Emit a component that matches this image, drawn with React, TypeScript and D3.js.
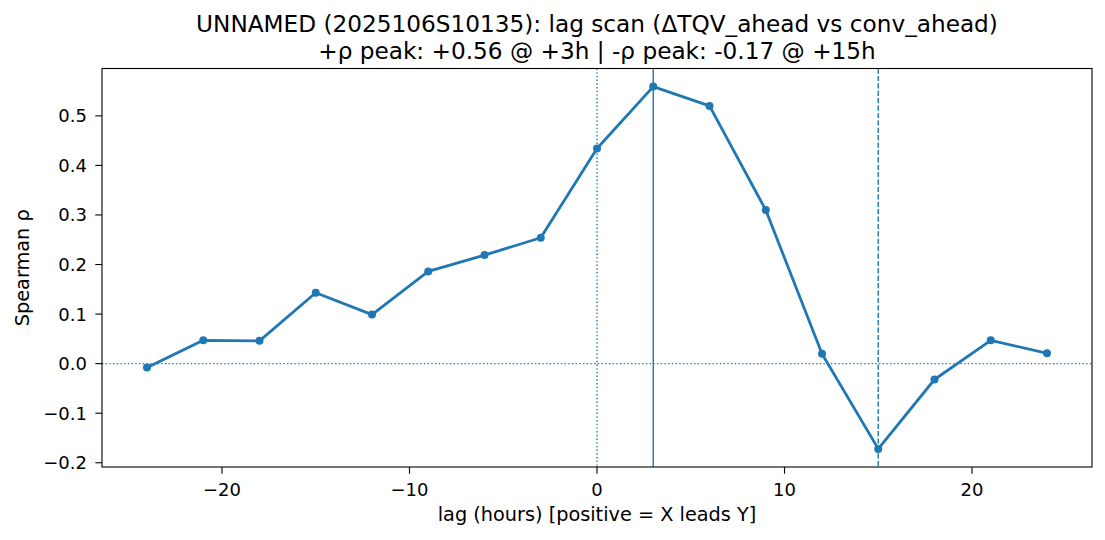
import React from "react";
import * as d3 from "d3";

const lags = [-24, -21, -18, -15, -12, -9, -6, -3, 0, 3, 6, 9, 12, 15, 18, 21, 24];
const rho = [-0.008, 0.047, 0.046, 0.143, 0.099, 0.186, 0.219, 0.254, 0.434, 0.559, 0.52, 0.31, 0.02, -0.172, -0.032, 0.047, 0.021];
const xTicks = [-20, -10, 0, 10, 20];
const yTicks = [-0.2, -0.1, 0.0, 0.1, 0.2, 0.3, 0.4, 0.5];
const titleLines = [
  "UNNAMED (2025106S10135): lag scan (ΔTQV_ahead vs conv_ahead)",
  "+ρ peak: +0.56 @ +3h | -ρ peak: -0.17 @ +15h",
];
const xLabel = "lag (hours) [positive = X leads Y]";
const yLabel = "Spearman ρ";
const posPeakLag = 3;
const negPeakLag = 15;

const W = 1105, H = 540;
const L = 102, R = 1092, T = 68.5, B = 467;
const C = "#1f77b4";
const FONT = "DejaVu Sans, sans-serif";
const TICK_FS = 18;
const LABEL_FS = 19.3;
const TITLE_FS = 23.2;

export default function App() {
  const xmin = d3.min(lags)!, xmax = d3.max(lags)!;
  const xm = (xmax - xmin) * 0.05;
  const ymin = d3.min(rho)!, ymax = d3.max(rho)!;
  const ym = (ymax - ymin) * 0.05;
  const x = d3.scaleLinear().domain([xmin - xm, xmax + xm]).range([L, R]);
  const y = d3.scaleLinear().domain([ymin - ym, ymax + ym]).range([B, T]);
  const pts = lags.map((l, i) => [l, rho[i]] as [number, number]);
  const line = d3.line<[number, number]>().x(d => x(d[0])).y(d => y(d[1]));

  return (
    <svg width={W} height={H} style={{ position: "absolute", left: 0, top: 0, background: "#fff" }} fontFamily={FONT}>
      <rect x={0} y={0} width={W} height={H} fill="#fff" />
      <line x1={L} x2={R} y1={y(0)} y2={y(0)} stroke={C} strokeWidth={1.4} strokeDasharray="1.4 2.3" />
      <line x1={x(0)} x2={x(0)} y1={T} y2={B} stroke={C} strokeWidth={1.4} strokeDasharray="1.4 2.3" />
      <line x1={x(posPeakLag)} x2={x(posPeakLag)} y1={T} y2={B} stroke={C} strokeWidth={1.4} />
      <line x1={x(negPeakLag)} x2={x(negPeakLag)} y1={T} y2={B} stroke={C} strokeWidth={1.4} strokeDasharray="5.2 2.2" />
      <path d={line(pts)!} fill="none" stroke={C} strokeWidth={2.8} strokeLinejoin="round" strokeLinecap="square" />
      {pts.map((p, i) => (
        <circle key={i} cx={x(p[0])} cy={y(p[1])} r={4} fill={C} />
      ))}
      <rect x={L} y={T} width={R - L} height={B - T} fill="none" stroke="#000" strokeWidth={1.1} />
      {xTicks.map(t => (
        <g key={t}>
          <line x1={x(t)} x2={x(t)} y1={B} y2={B + 6.7} stroke="#000" strokeWidth={1.1} />
          <text x={x(t)} y={495.5} textAnchor="middle" fontSize={TICK_FS} fill="#000">
            {t < 0 ? "\u2212" + Math.abs(t) : String(t)}
          </text>
        </g>
      ))}
      {yTicks.map(t => (
        <g key={t}>
          <line x1={L - 6.7} x2={L} y1={y(t)} y2={y(t)} stroke="#000" strokeWidth={1.1} />
          <text x={87} y={y(t) + 6.5} textAnchor="end" fontSize={TICK_FS} fill="#000">
            {t < 0 ? "\u2212" + Math.abs(t).toFixed(1) : t.toFixed(1)}
          </text>
        </g>
      ))}
      <text x={(L + R) / 2} y={521} textAnchor="middle" fontSize={LABEL_FS} fill="#000">{xLabel}</text>
      <text transform={`translate(29, ${(T + B) / 2}) rotate(-90)`} textAnchor="middle" fontSize={LABEL_FS} fill="#000">{yLabel}</text>
      {titleLines.map((s, i) => (
        <text key={i} x={(L + R) / 2} y={31.5 + i * 27.5} textAnchor="middle" fontSize={TITLE_FS} fill="#000">{s}</text>
      ))}
    </svg>
  );
}
